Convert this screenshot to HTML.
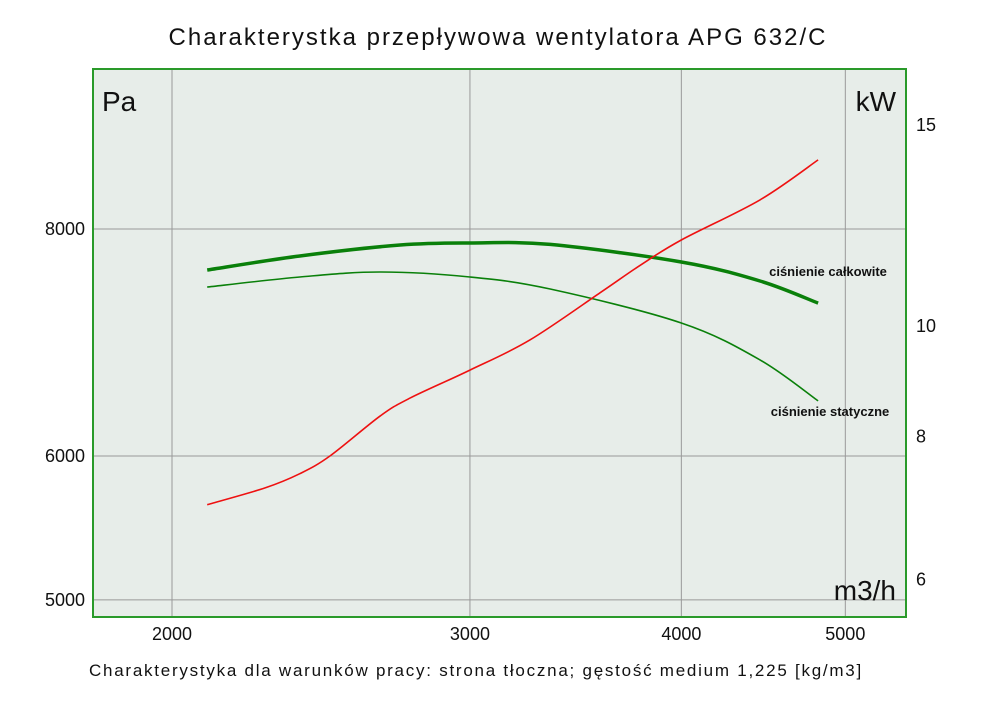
<!DOCTYPE html>
<html><head><meta charset="utf-8"><style>
body{margin:0;background:#fff;width:1000px;height:706px;overflow:hidden}
svg text{font-family:"Liberation Sans",sans-serif}
</style></head><body>
<svg id="c" width="1000" height="706">
<text x="498" y="45" font-size="24" text-anchor="middle" fill="#111" letter-spacing="2">Charakterystka przepływowa wentylatora APG 632/C</text>
<rect x="93" y="69" width="813" height="548" fill="#e7ede9"/>
<g id="grid"></g>
<g id="series"></g>
<rect x="93" y="69" width="813" height="548" fill="none" stroke="#2a9a2a" stroke-width="2"/>
<text x="102" y="111" font-size="28" fill="#111">Pa</text>
<text x="896" y="111" font-size="28" fill="#111" text-anchor="end">kW</text>
<text x="896" y="600" font-size="28" fill="#111" text-anchor="end">m3/h</text>
<text x="828" y="276" font-size="13" font-weight="bold" fill="#111" text-anchor="middle">ciśnienie całkowite</text>
<text x="830" y="416" font-size="13" font-weight="bold" fill="#111" text-anchor="middle">ciśnienie statyczne</text>
<text x="476" y="676" font-size="17" fill="#111" text-anchor="middle" letter-spacing="1.75">Charakterystyka dla warunków pracy: strona tłoczna; gęstość medium 1,225 [kg/m3]</text>
</svg>
<script>
const xTicks=[2000,3000,4000,5000];
const paTicks=[5000,6000,8000];
const kwTicks=[6,8,10,15];
const totalQ=[2098,2380,2728,3000,3346,4000,4452,4818];
const totalPa=[7595,7731,7839,7859,7845,7672,7490,7283];
const staticQ=[2098,2380,2654,3000,3346,4000,4452,4818];
const staticPa=[7432,7528,7576,7528,7414,7102,6777,6434];
const powerQ=[2098,2270,2380,2480,2654,2765,3000,3254,3581,3782,4000,4452,4818];
const powerKW=[6.96,7.20,7.41,7.68,8.32,8.63,9.13,9.70,10.67,11.28,11.87,12.87,13.95];
const L=Math.log10;
const X=q=>172+1692*L(q/2000);
const YP=p=>229+1817*L(8000/p);
const YK=k=>325+1142*L(10/k);
const NS='http://www.w3.org/2000/svg';
const grid=document.getElementById('grid'),ser=document.getElementById('series'),svg=document.getElementById('c');
function mk(t,a,p){const e=document.createElementNS(NS,t);for(const k in a)e.setAttribute(k,a[k]);p.appendChild(e);return e;}
xTicks.forEach(v=>{
 const l=mk('line',{x1:X(v),x2:X(v),y1:69,y2:617,stroke:'#999','stroke-width':1},grid);
 
 
 const t=mk('text',{x:X(v),y:640,'font-size':18,'text-anchor':'middle',fill:'#111'},svg);
 t.textContent=v;
 
 
});
paTicks.forEach(v=>{
 const l=mk('line',{x1:93,x2:906,y1:YP(v),y2:YP(v),stroke:'#999','stroke-width':1},grid);
 
 
 const t=mk('text',{x:85,y:YP(v)+6,'font-size':18,'text-anchor':'end',fill:'#111'},svg);
 t.textContent=v;
 
 
});
kwTicks.forEach(v=>{
 const t=mk('text',{x:916,y:YK(v)+7,'font-size':18,fill:'#111'},svg);
 t.textContent=v;
 
 
});
function line(qs,vs,yf,col,w,name){
 const P=qs.map((q,i)=>[X(q),yf(vs[i])]);
 let d='M'+P[0][0].toFixed(1)+','+P[0][1].toFixed(1);
 for(let i=0;i<P.length-1;i++){
  const p0=P[Math.max(i-1,0)],p1=P[i],p2=P[i+1],p3=P[Math.min(i+2,P.length-1)];
  const c1=[p1[0]+(p2[0]-p0[0])/6,p1[1]+(p2[1]-p0[1])/6];
  const c2=[p2[0]-(p3[0]-p1[0])/6,p2[1]-(p3[1]-p1[1])/6];
  d+=' C'+c1.map(v=>v.toFixed(1)).join(',')+' '+c2.map(v=>v.toFixed(1)).join(',')+' '+p2.map(v=>v.toFixed(1)).join(',');
 }
 const p=mk('path',{d:d,fill:'none',stroke:col,'stroke-width':w},ser);
 
 
}
line(totalQ,totalPa,YP,'#0a800a',3.5,'total-pressure-line');
line(staticQ,staticPa,YP,'#0a800a',1.6,'static-pressure-line');
line(powerQ,powerKW,YK,'#ee1111',1.6,'power-line');
</script>
</body></html>
